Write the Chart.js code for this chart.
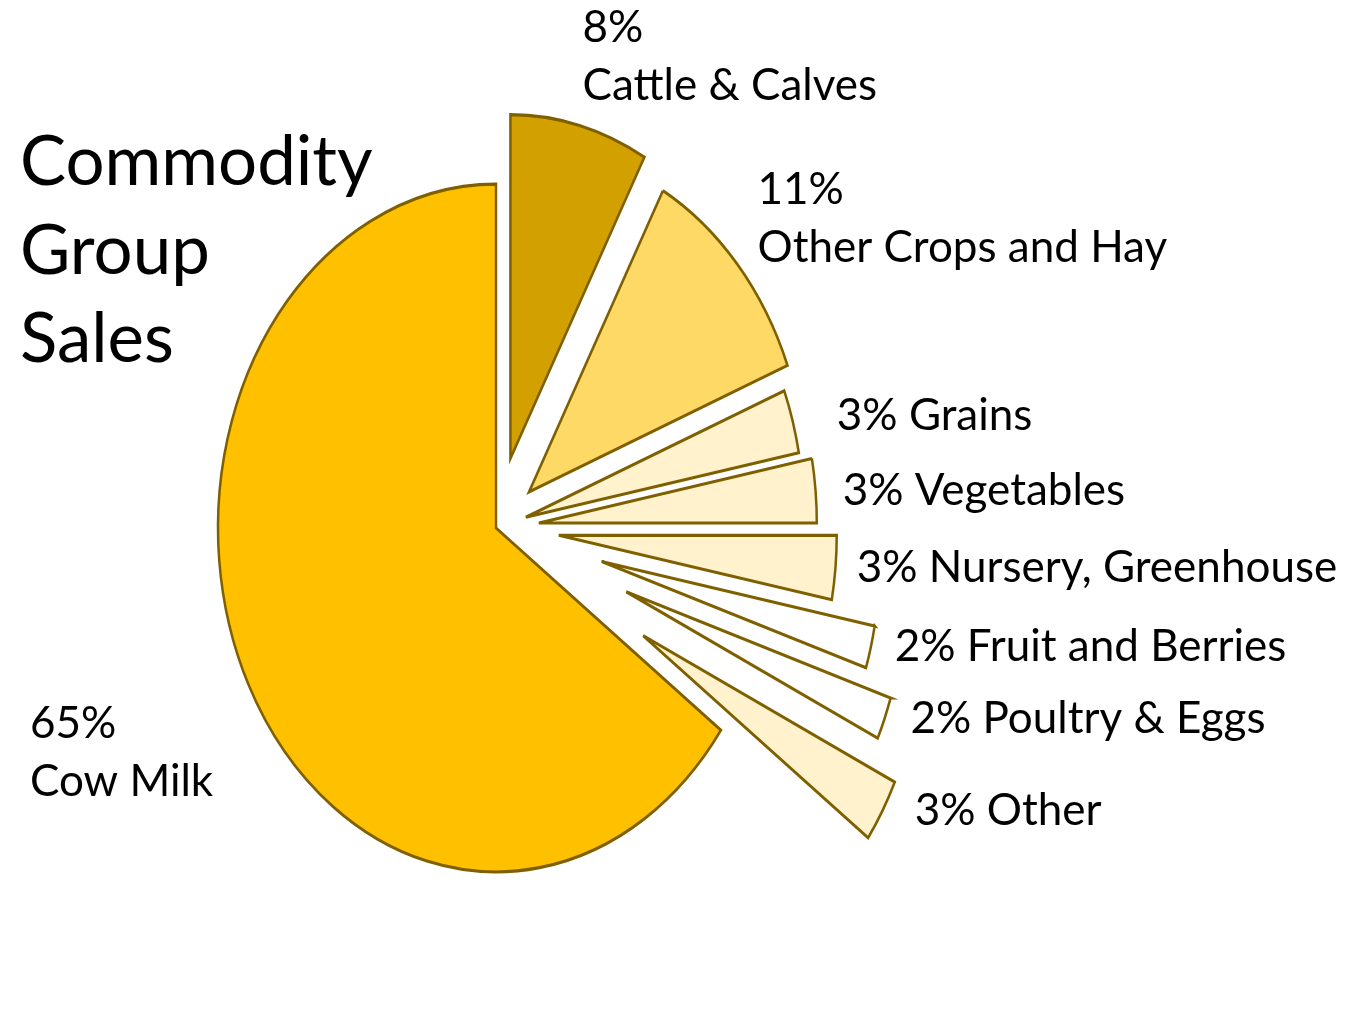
<!DOCTYPE html>
<html>
<head>
<meta charset="utf-8">
<title>Commodity Group Sales</title>
<script src="https://cdn.jsdelivr.net/npm/chart.js@4.4.1/dist/chart.umd.min.js"></script>
<style>
  html, body { margin: 0; padding: 0; background: #fff; }
  #wrap { width: 1353px; height: 1020px; }
</style>
</head>
<body>
<div id="wrap"><canvas id="salesChart" width="1353" height="1020"></canvas></div>
<script>
// commodity groups, clockwise from 12 o'clock
const categories = ['Cattle & Calves', 'Other Crops and Hay', 'Grains', 'Vegetables',
  'Nursery, Greenhouse', 'Fruit and Berries', 'Poultry & Eggs', 'Other', 'Cow Milk'];
const shares = [8, 11, 3, 3, 3, 2, 2, 3, 65];
const sliceColors = ['#D2A100', '#FFD966', '#FFF2CC', '#FFF2CC', '#FFF2CC',
  '#FFFFFF', '#FFFFFF', '#FFF2CC', '#FFC000'];
// how far each slice is pulled away from the centre (px)
const explode = [58, 44, 31, 43, 63, 109, 140, 171, 0];

const titleLines = ['Commodity', 'Group', 'Sales'];

// where each label sits relative to its slice
const labelLayout = [
  { mode: 'above', dx: 3, dy: -25 },
  { mode: 'above', dx: 20, dy: -3 },
  { mode: 'side', dx: 38, dy: -6 },
  { mode: 'side', dx: 26, dy: 0 },
  { mode: 'side', dx: 20, dy: 0 },
  { mode: 'side', dx: 20, dy: 0 },
  { mode: 'side', dx: 20, dy: 0 },
  { mode: 'side', dx: 20, dy: 0 },
  { mode: 'fixed', x: 30, y: 796 }
];

const RADIUS = 278;
const STRETCH_Y = 1.237;   // pie is drawn as a tall ellipse
const FONT = 'Lato, "Open Sans", sans-serif';
const LABEL_SIZE = 44;
const LINE_GAP = 58;

let pieCentre = null;

// pull slices out and squash the pie into an ellipse while the arcs draw
const explodedEllipse = {
  id: 'explodedEllipse',
  beforeDatasetsDraw(chart) {
    const arcs = chart.getDatasetMeta(0).data;
    const c = chart.ctx;
    pieCentre = { x: arcs[0].x, y: arcs[0].y };
    c.save();
    c.translate(pieCentre.x, pieCentre.y);
    c.scale(1, STRETCH_Y);
    c.translate(-pieCentre.x, -pieCentre.y);
    arcs.forEach((arc, i) => {
      const mid = (arc.startAngle + arc.endAngle) / 2;
      arc.x += Math.cos(mid) * explode[i];
      arc.y += Math.sin(mid) * explode[i];
    });
  },
  afterDatasetsDraw(chart) {
    const arcs = chart.getDatasetMeta(0).data;
    arcs.forEach((arc, i) => {
      const mid = (arc.startAngle + arc.endAngle) / 2;
      arc.x -= Math.cos(mid) * explode[i];
      arc.y -= Math.sin(mid) * explode[i];
    });
    chart.ctx.restore();
  }
};

// title and slice labels
const textLabels = {
  id: 'textLabels',
  afterDraw(chart) {
    const c = chart.ctx;
    const arcs = chart.getDatasetMeta(0).data;
    const cx = pieCentre.x, cy = pieCentre.y;
    const toScreen = (x, y) => ({ x: x, y: cy + (y - cy) * STRETCH_Y });

    c.save();
    c.fillStyle = '#000';
    c.textAlign = 'left';
    c.textBaseline = 'alphabetic';

    c.font = '69px ' + FONT;
    titleLines.forEach((t, i) => c.fillText(t, 20, 185 + i * 88.5));

    c.font = LABEL_SIZE + 'px ' + FONT;
    arcs.forEach((arc, i) => {
      const lay = labelLayout[i];
      const pct = shares[i] + '%';
      if (lay.mode === 'fixed') {
        c.fillText(pct, lay.x, lay.y - LINE_GAP);
        c.fillText(categories[i], lay.x, lay.y);
        return;
      }
      const mid = (arc.startAngle + arc.endAngle) / 2;
      const ax = cx + Math.cos(mid) * explode[i];
      const ay = cy + Math.sin(mid) * explode[i];
      const pts = [arc.startAngle, mid, arc.endAngle].map(a =>
        toScreen(ax + Math.cos(a) * RADIUS, ay + Math.sin(a) * RADIUS));
      const m = pts[1];
      if (lay.mode === 'above') {
        c.fillText(pct, m.x + lay.dx, m.y + lay.dy - LINE_GAP);
        c.fillText(categories[i], m.x + lay.dx, m.y + lay.dy);
      } else {
        const xmax = Math.max(...pts.map(p => p.x));
        c.textBaseline = 'middle';
        c.fillText(pct + ' ' + categories[i], xmax + lay.dx, m.y + lay.dy);
        c.textBaseline = 'alphabetic';
      }
    });
    c.restore();
  }
};

new Chart(document.getElementById('salesChart').getContext('2d'), {
  type: 'pie',
  data: {
    labels: categories,
    datasets: [{
      data: shares,
      backgroundColor: sliceColors,
      borderColor: '#7F6000',
      borderWidth: 2.5,
      borderJoinStyle: 'miter',
      radius: RADIUS
    }]
  },
  options: {
    responsive: false,
    animation: false,
    events: [],
    layout: { padding: { left: 0, right: 361, top: 36, bottom: 0 } },
    plugins: {
      legend: { display: false },
      tooltip: { enabled: false }
    }
  },
  plugins: [explodedEllipse, textLabels]
});
</script>
</body>
</html>
